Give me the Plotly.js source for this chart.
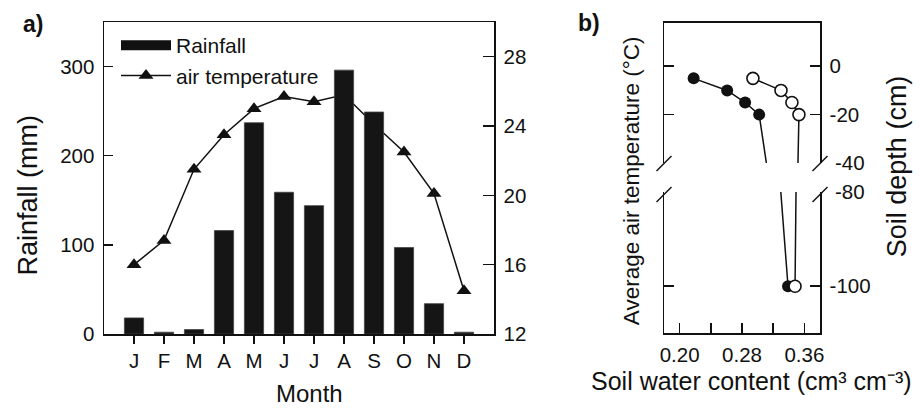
<!DOCTYPE html>
<html><head><meta charset="utf-8">
<script src="https://cdn.plot.ly/plotly-3.0.1.min.js"></script>
<style>html,body{margin:0;padding:0;background:#fff}#chart{width:920px;height:408px}</style>
</head><body><div id="chart"></div>
<script>
// ---- data: panel a ----
const months = ['J','F','M','A','M','J','J','A','S','O','N','D'];
const rainfall = [18, 2, 5, 116, 237, 159, 144, 296, 249, 97, 34, 2];
const airTemp = [16.0, 17.4, 21.5, 23.5, 25.0, 25.7, 25.4, 25.8, 24.1, 22.5, 20.1, 14.5];
const rainTicks = [0, 100, 200, 300];
const tempTicks = [12, 16, 20, 24, 28];
// ---- data: panel b ----
const depthClosed = [-5, -10, -15, -20, -100];
const swcClosed = [0.218, 0.261, 0.284, 0.302, 0.339];
const depthOpen = [-5, -10, -15, -20, -100];
const swcOpen = [0.294, 0.330, 0.344, 0.353, 0.348];
const swcLabelTicks = [0.20, 0.28, 0.36];
const swcLabelText = ['0.20', '0.28', '0.36'];
const swcMinorTicks = [0.24, 0.32];
const depthTicksUpper = [0, -20];
const depthTextUpper = ['0', '-20'];
const depthBreakUpper = [-40];
const depthBreakUpperText = ['-40'];
const depthTicksLower = [-100];
const depthTextLower = ['-100'];
const depthBreakLower = [-80];
const depthBreakLowerText = ['-80'];

const W = 920, H = 408;
const px = v => v / W, py = v => 1 - v / H;
const FONT = 'Liberation Sans, Arial, Helvetica, sans-serif';
const INK = '#111';
const idx = months.map((m, i) => i);

// invisible helper so that label-only overlay axes get drawn
const axisHolder = (xa, ya) => ({type:'scatter', mode:'markers', x:[null], y:[null],
  showlegend:false, hoverinfo:'skip', xaxis:xa, yaxis:ya});

const traces = [
  {type:'scatter', mode:'lines', x:[null], y:[null], name:'Rainfall',
   line:{color:INK, width:10}, xaxis:'x', yaxis:'y', hoverinfo:'skip'},
  {type:'scatter', mode:'lines+markers', x:idx, y:airTemp, name:'air temperature',
   line:{color:INK, width:1.5}, marker:{symbol:'triangle-up', size:13, color:INK},
   xaxis:'x', yaxis:'y2'},
  {type:'bar', x:idx, y:rainfall, width:0.64, name:'Rainfall', showlegend:false,
   marker:{color:'#151515', line:{color:'#444', width:0.8}}, xaxis:'x', yaxis:'y3'},
  // panel b, upper (0 to -40)
  {type:'scatter', mode:'lines+markers', x:swcClosed, y:depthClosed, showlegend:false,
   line:{color:INK, width:1.5}, marker:{size:12, color:INK}, xaxis:'x3', yaxis:'y4'},
  {type:'scatter', mode:'lines+markers', x:swcOpen, y:depthOpen, showlegend:false,
   line:{color:INK, width:1.5}, marker:{size:12, color:'#fff', line:{color:INK, width:1.6}}, xaxis:'x3', yaxis:'y4'},
  // panel b, lower (-80 to -110)
  {type:'scatter', mode:'lines+markers', x:swcClosed, y:depthClosed, showlegend:false,
   line:{color:INK, width:1.5}, marker:{size:12, color:INK}, xaxis:'x2', yaxis:'y5'},
  {type:'scatter', mode:'lines+markers', x:swcOpen, y:depthOpen, showlegend:false,
   line:{color:INK, width:1.5}, marker:{size:12, color:'#fff', line:{color:INK, width:1.6}}, xaxis:'x2', yaxis:'y5'},
  axisHolder('x3', 'y6'), axisHolder('x2', 'y7')
];

const axLine = {showline:true, linecolor:INK, linewidth:1.5, showgrid:false, zeroline:false,
  tickcolor:INK, tickwidth:1.5, tickfont:{family:FONT, size:20.5, color:INK}};

const xa = [104, 494], xb = [664, 820];
const upperDom = [py(163), py(22.7)], lowerDom = [py(333.3), py(192)];
const layout = {
  width:W, height:H, margin:{l:0, r:0, t:0, b:0},
  paper_bgcolor:'#fff', plot_bgcolor:'rgba(0,0,0,0)',
  font:{family:FONT, color:INK},
  showlegend:true,
  legend:{x:px(116), y:py(25), xanchor:'left', yanchor:'top', bgcolor:'rgba(0,0,0,0)',
    font:{family:FONT, size:21, color:INK}, itemwidth:50, tracegroupgap:0},
  xaxis:Object.assign({}, axLine, {domain:[px(xa[0]), px(xa[1])], anchor:'y', range:[-1, 12],
    tickvals:idx, ticktext:months, ticks:'outside', ticklen:8, mirror:true}),
  yaxis:Object.assign({}, axLine, {domain:[py(334), py(22)], anchor:'x', range:[0, 350],
    tickvals:rainTicks, ticks:'inside', ticklen:9, ticklabelstandoff:4}),
  yaxis2:Object.assign({}, axLine, {overlaying:'y', side:'right', anchor:'x', range:[12, 30],
    tickvals:tempTicks, ticks:'inside', ticklen:11, ticklabelstandoff:4}),
  yaxis3:{overlaying:'y', anchor:'x', range:[0, 350], visible:false, showgrid:false, zeroline:false},
  // panel b
  xaxis2:Object.assign({}, axLine, {domain:[px(xb[0]), px(xb[1])], anchor:'y5', range:[0.18, 0.38],
    tickvals:swcLabelTicks, ticktext:swcLabelText, ticks:'inside', ticklen:10, ticklabelstandoff:3,
    minor:{tickvals:swcMinorTicks, ticks:'inside', ticklen:10, tickcolor:INK, tickwidth:1.5, showgrid:false}}),
  xaxis3:Object.assign({}, axLine, {domain:[px(xb[0]), px(xb[1])], anchor:'y4', range:[0.18, 0.38],
    side:'top', ticks:'', showticklabels:false}),
  yaxis4:Object.assign({}, axLine, {domain:upperDom, anchor:'x3', range:[-40, 18],
    side:'right', mirror:'ticks', tickvals:depthTicksUpper, ticktext:depthTextUpper,
    ticks:'inside', ticklen:10, ticklabelstandoff:4}),
  yaxis6:Object.assign({}, axLine, {overlaying:'y4', anchor:'x3', range:[-40, 18], showline:false,
    side:'right', tickvals:depthBreakUpper, ticktext:depthBreakUpperText, ticks:'', ticklabelstandoff:14}),
  yaxis5:Object.assign({}, axLine, {domain:lowerDom, anchor:'x2', range:[-110, -80],
    side:'right', mirror:'ticks', tickvals:depthTicksLower, ticktext:depthTextLower,
    ticks:'inside', ticklen:10, ticklabelstandoff:4}),
  yaxis7:Object.assign({}, axLine, {overlaying:'y5', anchor:'x2', range:[-110, -80], showline:false,
    side:'right', tickvals:depthBreakLower, ticktext:depthBreakLowerText, ticks:'', ticklabelstandoff:14}),
  shapes:[
    [656.5,171,671.5,156], [656.5,202,671.5,187], [812.5,171,827.5,156], [812.5,202,827.5,187]
  ].map(s => ({type:'line', xref:'paper', yref:'paper', x0:px(s[0]), y0:py(s[1]), x1:px(s[2]), y1:py(s[3]),
    line:{color:INK, width:1.5}})),
  annotations:[
    {text:'a)', x:px(33), y:py(24), size:23, weight:'bold'},
    {text:'b)', x:px(589), y:py(23), size:23, weight:'bold'},
    {text:'Rainfall (mm)', x:px(27.5), y:py(195), size:27, textangle:-90},
    {text:'Month', x:px(309.5), y:py(393), size:24},
    {text:'Average air temperature (°C)', x:px(631.7), y:py(180.5), size:22.5, textangle:-90},
    {text:'Soil depth (cm)', x:px(896.7), y:py(166.5), size:27, textangle:-90},
    {text:'Soil water content (cm³ cm⁻³)', x:px(751.7), y:py(381), size:25}
  ].map(a => ({xref:'paper', yref:'paper', x:a.x, y:a.y, text:a.text, showarrow:false,
    xanchor:'center', yanchor:'middle', textangle:a.textangle || 0,
    font:{family:FONT, size:a.size, color:INK, weight:a.weight || 'normal'}}))
};

Plotly.newPlot('chart', traces, layout, {staticPlot:true, displayModeBar:false});
</script></body></html>
